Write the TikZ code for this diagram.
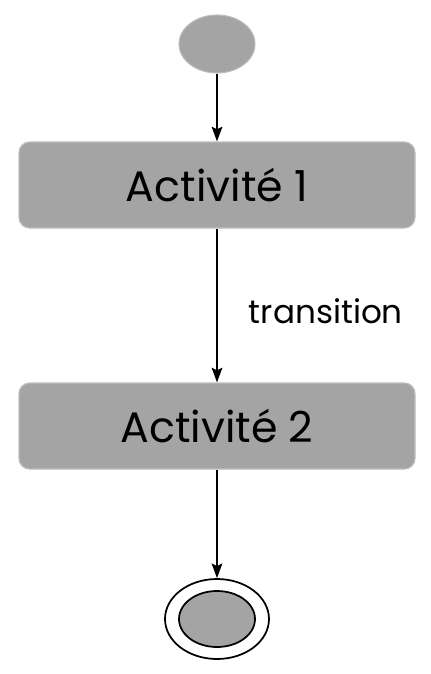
\documentclass[tikz,border=0pt]{standalone}
\usepackage{fontspec}
\setmainfont{Poppins}
\usetikzlibrary{shapes.geometric,arrows.meta}
\definecolor{grisfond}{HTML}{A4A4A4}
\definecolor{grisbord}{HTML}{BDBDBD}
\tikzset{
	etat/.style={ellipse,fill=grisfond,draw=grisbord,line width=0.8pt,inner sep=0pt},
	activite/.style={rectangle,rounded corners=8pt,fill=grisfond,draw=grisbord,line width=0.9pt,
		minimum width=297pt,minimum height=64.5pt,font=\fontsize{32}{36}\selectfont},
	fleche/.style={-{Stealth[length=11pt,width=8pt,inset=2pt]},line width=1.3pt,black}
}
\begin{document}
\begin{tikzpicture}[x=0.75pt,y=-0.75pt]
	\useasboundingbox (0,0) rectangle (431,674);
	\node[etat,minimum width=57pt,minimum height=43.5pt] (debut) at (217,44) {};
	\node[activite] (act1) at (217,185) {Activité 1};
	\node[activite] (act2) at (217,426) {Activité 2};
	\node[ellipse,draw=black,fill=white,line width=1.3pt,minimum width=78pt,minimum height=60pt] (fin) at (217,619) {};
	\node[ellipse,draw=black,fill=grisfond,line width=1.3pt,minimum width=57pt,minimum height=42pt] (fininterne) at (217,619) {};
	\draw[fleche] (debut) -- (act1);
	\draw[fleche] (act1) -- node[right=20pt,yshift=-4pt,font=\fontsize{24.5}{28}\selectfont] {transition} (act2);
	\draw[fleche] (act2) -- (fin);
\end{tikzpicture}
\end{document}
